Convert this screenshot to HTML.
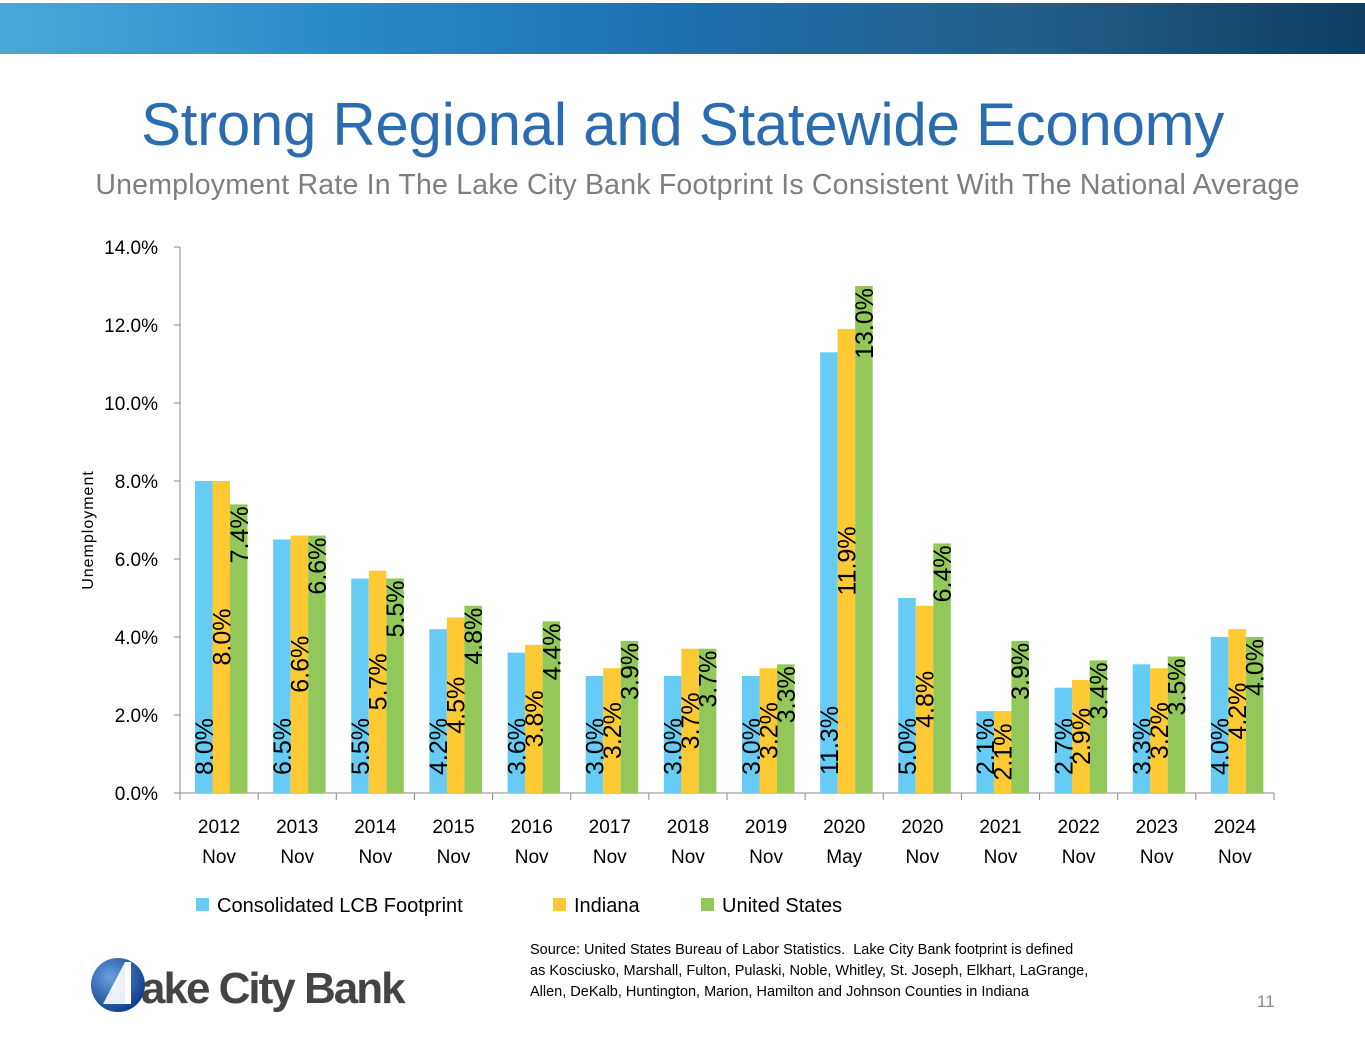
<!DOCTYPE html>
<html><head><meta charset="utf-8"><style>
body{margin:0;width:1365px;height:1055px;background:#fff;font-family:"Liberation Sans",sans-serif;overflow:hidden;position:relative}
.banner{position:absolute;left:0;top:3px;width:1365px;height:51px;background:linear-gradient(90deg,#4aa8d8 0%,#2a8ac8 25%,#1e6fae 50%,#235f8a 75%,#0f3e62 100%)}
.title{position:absolute;left:0;width:1365px;top:90px;text-align:center;font-size:60px;color:#2b6cb0;letter-spacing:-0.3px}
.sub{position:absolute;left:0;width:1395px;top:169px;text-align:center;font-size:28.5px;color:#7f7f7f;letter-spacing:0.2px}
.src{position:absolute;left:530px;top:940px;font-size:14.5px;line-height:21px;color:#000}
.pg{position:absolute;left:1257px;top:992px;font-size:17px;color:#888}
</style></head><body>
<div class="banner"></div>
<div class="title">Strong Regional and Statewide Economy</div>
<div class="sub">Unemployment Rate In The Lake City Bank Footprint Is Consistent With The National Average</div>
<svg id="chart" width="1365" height="1055" style="position:absolute;left:0;top:0"></svg>
<div class="src">Source: United States Bureau of Labor Statistics.&nbsp; Lake City Bank footprint is defined<br>as Kosciusko, Marshall, Fulton, Pulaski, Noble, Whitley, St. Joseph, Elkhart, LaGrange,<br>Allen, DeKalb, Huntington, Marion, Hamilton and Johnson Counties in Indiana</div>
<div class="pg">11</div>
<svg width="330" height="70" style="position:absolute;left:85px;top:950px">
<defs><radialGradient id="lg" cx="0.35" cy="0.35" r="0.7"><stop offset="0" stop-color="#6aa0e0"/><stop offset="1" stop-color="#0d3c8c"/></radialGradient></defs>
<circle cx="33" cy="35" r="27" fill="url(#lg)"/>
<polygon points="18,54 40,12 40,54" fill="#fff" opacity="0.9"/>
<rect x="40" y="12" width="6" height="42" fill="#fff"/>
<text x="56" y="53" font-family="Liberation Sans" font-weight="bold" font-size="44" fill="#444" letter-spacing="-2">ake City Bank</text>
</svg>
<script>
const categories=[["2012","Nov"],["2013","Nov"],["2014","Nov"],["2015","Nov"],["2016","Nov"],["2017","Nov"],["2018","Nov"],["2019","Nov"],["2020","May"],["2020","Nov"],["2021","Nov"],["2022","Nov"],["2023","Nov"],["2024","Nov"]];
const lcb=[8.0,6.5,5.5,4.2,3.6,3.0,3.0,3.0,11.3,5.0,2.1,2.7,3.3,4.0];
const indiana=[8.0,6.6,5.7,4.5,3.8,3.2,3.7,3.2,11.9,4.8,2.1,2.9,3.2,4.2];
const us=[7.4,6.6,5.5,4.8,4.4,3.9,3.7,3.3,13.0,6.4,3.9,3.4,3.5,4.0];
const yTicks=[0,2,4,6,8,10,12,14];
const seriesNames=["Consolidated LCB Footprint","Indiana","United States"];
const colors=["#66ccf5","#ffc933","#92c85a"];
const svg=document.getElementById('chart');const NS="http://www.w3.org/2000/svg";
const x0=180,x1=1274,y0=793,yTop=247;
const y=v=>y0-(v/14)*(y0-yTop);
const gw=(x1-x0)/categories.length;
const bx=(i,s)=>x0+i*gw+15+s*17.5;
function mk(t,a,txt){const e=document.createElementNS(NS,t);for(const k in a)e.setAttribute(k,a[k]);if(txt!==undefined)e.textContent=txt;svg.appendChild(e);return e;}
let e;
e=mk('line',{x1:x0,y1:yTop,x2:x0,y2:y0,stroke:'#888'});

e=mk('line',{x1:x0,y1:y0,x2:x1,y2:y0,stroke:'#888'});

yTicks.forEach(t=>{
 e=mk('line',{x1:x0-6,y1:y(t),x2:x0,y2:y(t),stroke:'#888'});
 
 e=mk('text',{x:158,y:y(t)+7,'text-anchor':'end','font-size':19,fill:'#000'},t.toFixed(1)+'%');
 
});
e=mk('text',{transform:'translate(93,530) rotate(-90)','text-anchor':'middle','font-size':16,fill:'#000','letter-spacing':'1'},'Unemployment');

for(let i=0;i<=categories.length;i++){
 e=mk('line',{x1:x0+i*gw,y1:y0,x2:x0+i*gw,y2:y0+7,stroke:'#888'});
 
}
categories.forEach((c,i)=>{
 const cx=x0+(i+0.5)*gw;
 e=mk('text',{x:cx,y:833,'text-anchor':'middle','font-size':19},c[0]);
 
 e=mk('text',{x:cx,y:863,'text-anchor':'middle','font-size':19},c[1]);
 
});
[lcb,indiana,us].forEach((arr,s)=>{
 arr.forEach((v,i)=>{
  const X=bx(i,s);
  e=mk('rect',{x:X,y:y(v),width:17.5,height:y0-y(v),fill:colors[s]});
  
 });
});
[lcb,indiana,us].forEach((arr,s)=>{
 arr.forEach((v,i)=>{
  const cx=bx(i,s)+8.75+9;
  let ty,anchor;
  if(s===0){ty=y0-18;anchor='start';}
  else if(s===1){ty=(y(v)+y0)/2;anchor='middle';}
  else{ty=y(v)+2;anchor='end';}
  e=mk('text',{transform:`translate(${cx},${ty}) rotate(-90)`,'text-anchor':anchor,'font-size':25,fill:'#000'},v.toFixed(1)+'%');
  
 });
});
const lx=[196,553,701];
seriesNames.forEach((n,s)=>{
 e=mk('rect',{x:lx[s],y:898,width:13,height:13,fill:colors[s]});
 
 e=mk('text',{x:lx[s]+21,y:912,'font-size':20},n);
 
});
</script>
</body></html>
